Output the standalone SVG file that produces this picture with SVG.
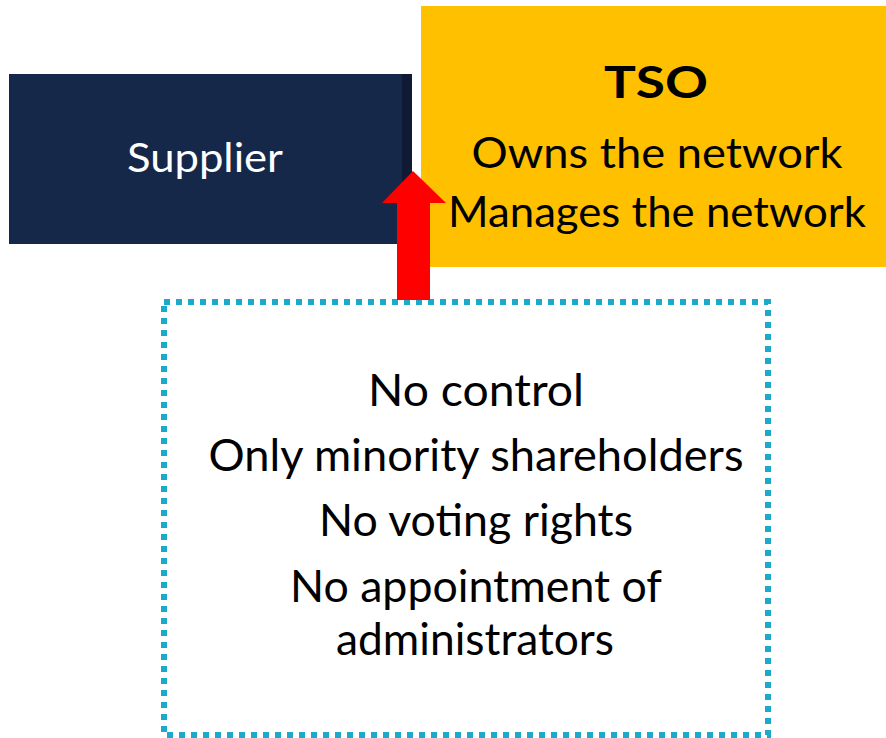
<svg xmlns="http://www.w3.org/2000/svg" width="886" height="738" viewBox="0 0 886 738">
  <style>
    .t { font-family: Lato, "Open Sans", sans-serif; fill: #000; text-anchor: middle; }
    .big { font-size: 44px; }
    .mid { font-size: 43px; }
    .sup { font-size: 40px; fill: #ffffff; }
  </style>
  <rect width="886" height="738" fill="#ffffff"/>
  <g id="supplier">
    <rect x="9" y="74" width="403" height="170" fill="#16284a"/>
    <rect x="402" y="74" width="10" height="170" fill="#111a35"/>
    <text class="t sup" x="205" y="172" textLength="156" lengthAdjust="spacingAndGlyphs">Supplier</text>
  </g>
  <g id="tso">
    <rect x="421" y="6" width="465" height="261" fill="#ffc000"/>
    <text class="t mid" x="656" y="98" font-weight="bold" textLength="104" lengthAdjust="spacingAndGlyphs">TSO</text>
    <text class="t mid" x="657" y="168" textLength="371" lengthAdjust="spacingAndGlyphs">Owns the network</text>
    <text class="t mid" x="657" y="227" textLength="418" lengthAdjust="spacingAndGlyphs">Manages the network</text>
  </g>
  <g id="conditions">
    <rect x="164" y="302" width="604" height="433" fill="none" stroke="#1ba9cc" stroke-width="6" stroke-dasharray="6 6"/>
    <text class="t big" x="476" y="406" textLength="216" lengthAdjust="spacingAndGlyphs">No control</text>
    <text class="t big" x="476" y="471" textLength="535" lengthAdjust="spacingAndGlyphs">Only minority shareholders</text>
    <text class="t big" x="476" y="536" textLength="314" lengthAdjust="spacingAndGlyphs">No voting rights</text>
    <text class="t big" x="476" y="602" textLength="372" lengthAdjust="spacingAndGlyphs">No appointment of</text>
    <text class="t big" x="475" y="655" textLength="278" lengthAdjust="spacingAndGlyphs">administrators</text>
  </g>
  <g id="connectors">
    <polygon points="397,300 430,300 430,203 446,203 413,171 382,203 397,203" fill="#ff0000"/>
  </g>
</svg>
